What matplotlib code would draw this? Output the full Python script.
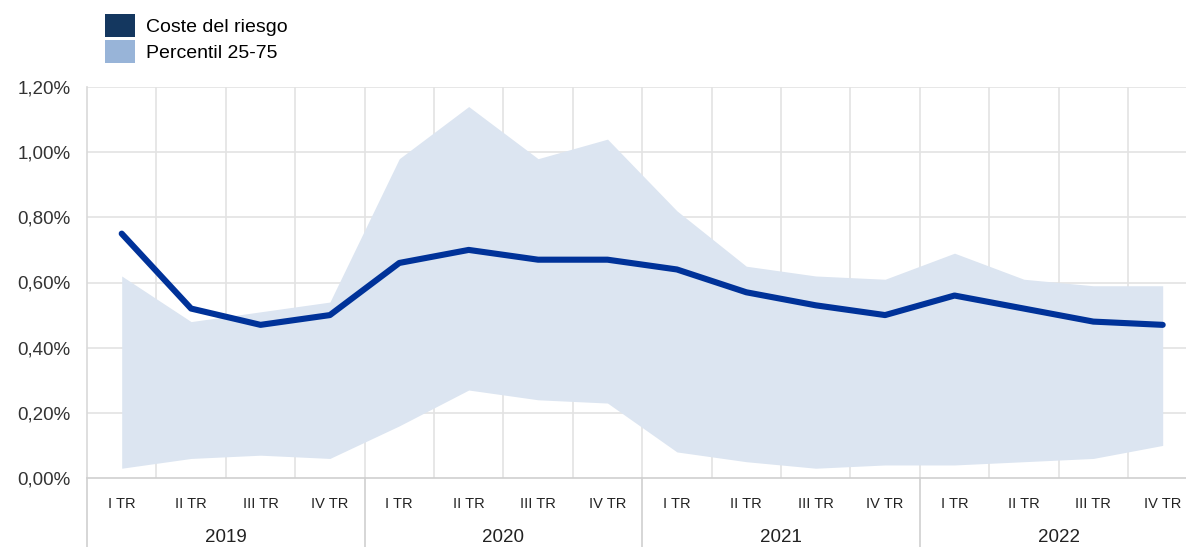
import matplotlib
matplotlib.use("Agg")
import matplotlib.pyplot as plt
from matplotlib.lines import Line2D
from matplotlib.patches import Patch
import numpy as np

plt.rcParams['font.family'] = ['Liberation Sans', 'DejaVu Sans']

years = ["2019", "2020", "2021", "2022"]
quarters = ["I TR", "II TR", "III TR", "IV TR"]
coste = [0.75, 0.52, 0.47, 0.50, 0.66, 0.70, 0.67, 0.67,
         0.64, 0.57, 0.53, 0.50, 0.56, 0.52, 0.48, 0.47]
p75 = [0.62, 0.48, 0.51, 0.54, 0.98, 1.14, 0.98, 1.04,
       0.82, 0.65, 0.62, 0.61, 0.69, 0.61, 0.59, 0.59]
p25 = [0.03, 0.06, 0.07, 0.06, 0.16, 0.27, 0.24, 0.23,
       0.08, 0.05, 0.03, 0.04, 0.04, 0.05, 0.06, 0.10]
yticks = [0.0, 0.2, 0.4, 0.6, 0.8, 1.0, 1.2]
ytick_labels = ["0,00%", "0,20%", "0,40%", "0,60%", "0,80%", "1,00%", "1,20%"]

W, H = 1186, 547
fig = plt.figure(figsize=(W / 100, H / 100), dpi=100)
left_px, right_px, top_px, bot_px = 87, 87 + 16 * 69.4, 87, 478
ax = fig.add_axes([left_px / W, 1 - bot_px / H, (right_px - left_px) / W, (bot_px - top_px) / H])

x = np.arange(len(coste))
ax.fill_between(x, p25, p75, color="#dce5f1", linewidth=0, zorder=2)
ax.plot(x, coste, color="#003299", linewidth=4.4, solid_capstyle="round",
        solid_joinstyle="round", zorder=3)

ax.set_xlim(-0.5, 15.5)
ax.set_ylim(0, 1.2)
ax.set_yticks(yticks)
ax.set_yticklabels(ytick_labels, fontsize=13.5, color="#333333")
ax.tick_params(axis="y", length=0, pad=12)

labels = quarters * len(years)
ax.set_xticks(x)
ax.set_xticklabels(labels, fontsize=10.5, color="#222222")
ax.tick_params(axis="x", length=0, pad=14)

grid_c = "#e3e3e3"
for yv in yticks[1:]:
    ax.axhline(yv, color=grid_c, linewidth=1.2, zorder=1)
for b in np.arange(0.5, 15.5, 1.0):
    ax.axvline(b, color=grid_c, linewidth=1.2, zorder=1)

for s in ["top", "right"]:
    ax.spines[s].set_visible(False)
ax.spines["left"].set_color("#d9d9d9")
ax.spines["bottom"].set_color("#d0d0d0")
ax.spines["left"].set_linewidth(1.2)
ax.spines["bottom"].set_linewidth(1.2)

# year separators extending below axis
trans = ax.get_xaxis_transform()
for b in [-0.5, 3.5, 7.5, 11.5]:
    ax.add_line(Line2D([b, b], [0, -0.18], transform=trans, color="#d0d0d0",
                       linewidth=1.2, clip_on=False))
for i, yr in enumerate(years):
    ax.text(i * 4 + 1.5, -0.152, yr, transform=trans, ha="center", va="center",
            fontsize=13.5, color="#222222")

handles = [Patch(facecolor="#14375f", edgecolor="none", label="Coste del riesgo"),
           Patch(facecolor="#98b4d8", edgecolor="none", label="Percentil 25-75")]
fig.legend(handles=handles, loc="upper left", bbox_to_anchor=(97 / W, 1 - 6 / H),
           frameon=False, fontsize=14, handlelength=1.55, handleheight=1.45,
           labelspacing=0.15, handletextpad=0.55, borderaxespad=0)

fig.savefig("out.png", dpi=100)
